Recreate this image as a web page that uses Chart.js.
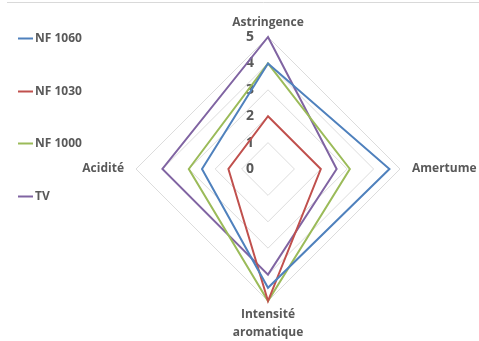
<!DOCTYPE html>
<html lang="fr">
<head>
<meta charset="utf-8">
<title>Profil sensoriel</title>
<script src="https://cdn.jsdelivr.net/npm/chart.js@4/dist/chart.umd.min.js"></script>
<style>
  html, body { margin: 0; padding: 0; background: #ffffff; overflow: hidden; width: 479px; height: 341px; }
  canvas { display: block; }
</style>
</head>
<body>
<!-- the drawing surface runs a little past the window so the bottom/right labels get room -->
<canvas id="radar" width="520" height="351"></canvas>
<script>
// Sensory attributes (clockwise from the top)
const attributes = ['Astringence', 'Amertume', ['Intensité', 'aromatique'], 'Acidité'];

// Mean scores per sample, 0–5 scale
const nf1060 = [4, 4.6, 4.5, 2.5];
const nf1030 = [2, 2.0, 5, 1.5];
const nf1000 = [4, 3.1, 5, 3.0];
const tv     = [5, 2.6, 4, 4.0];

const seriesNames = ['NF 1060', 'NF 1030', 'NF 1000', 'TV'];
const seriesValues = [nf1060, nf1030, nf1000, tv];
const seriesColors = ['#4F81BD', '#C0504D', '#9BBB59', '#8064A2'];

const scaleTicks = [0, 1, 2, 3, 4, 5];

const textColor = '#595959';
const fontFamily = '"Open Sans", "Liberation Sans", sans-serif';

// Score labels 0..5 drawn just left of the vertical axis, under the lines
const tickLabelPlugin = {
  id: 'tickLabels',
  beforeDatasetsDraw(chart) {
    const r = chart.scales.r;
    const ctx = chart.ctx;
    ctx.save();
    ctx.font = 'bold 14px ' + fontFamily;
    ctx.fillStyle = textColor;
    ctx.textAlign = 'center';
    ctx.textBaseline = 'middle';
    scaleTicks.forEach(v => {
      const d = r.getDistanceFromCenterForValue(v);
      ctx.fillText(String(v), r.xCenter - 18, r.yCenter - d);
    });
    ctx.restore();
  }
};

// Vertical legend on the left, plus the thin frame line along the top
const sideLegendPlugin = {
  id: 'sideLegend',
  afterDraw(chart) {
    const ctx = chart.ctx;
    ctx.save();
    ctx.strokeStyle = '#d9d9d9';
    ctx.lineWidth = 1;
    ctx.beginPath();
    ctx.moveTo(7, 2.5);
    ctx.lineTo(chart.width, 2.5);
    ctx.stroke();

    ctx.font = 'bold 12px ' + fontFamily;
    ctx.textAlign = 'left';
    ctx.textBaseline = 'middle';
    chart.data.datasets.forEach((ds, i) => {
      const y = Math.round(38 + i * 52.7) + 0.5;
      ctx.strokeStyle = ds.borderColor;
      ctx.lineWidth = 2;
      ctx.beginPath();
      ctx.moveTo(18, y);
      ctx.lineTo(33, y);
      ctx.stroke();
      ctx.fillStyle = textColor;
      ctx.fillText(ds.label, 35, y);
    });
    ctx.restore();
  }
};

new Chart(document.getElementById('radar'), {
  type: 'radar',
  data: {
    labels: attributes,
    datasets: seriesNames.map((name, i) => ({
      label: name,
      data: seriesValues[i],
      borderColor: seriesColors[i],
      backgroundColor: 'transparent',
      borderWidth: 2,
      fill: false,
      tension: 0,
      pointRadius: 0,
      pointHoverRadius: 0
    }))
  },
  options: {
    responsive: false,
    animation: false,
    devicePixelRatio: 1,
    layout: { padding: { left: 16, right: 0, top: 5, bottom: 0 } },
    plugins: {
      legend: { display: false },
      tooltip: { enabled: false }
    },
    scales: {
      r: {
        min: 0,
        max: 5,
        ticks: { display: false, stepSize: 1 },
        angleLines: { display: false },
        grid: { color: '#dcdcdc', lineWidth: 1 },
        pointLabels: {
          color: textColor,
          // side labels sit a bit further out than the top/bottom ones
          padding: (ctx) => (ctx.index % 2 === 1 ? 12 : 5),
          font: { family: fontFamily, weight: 'bold', size: 12, lineHeight: 1.5 }
        }
      }
    }
  },
  plugins: [tickLabelPlugin, sideLegendPlugin]
});
</script>
</body>
</html>
